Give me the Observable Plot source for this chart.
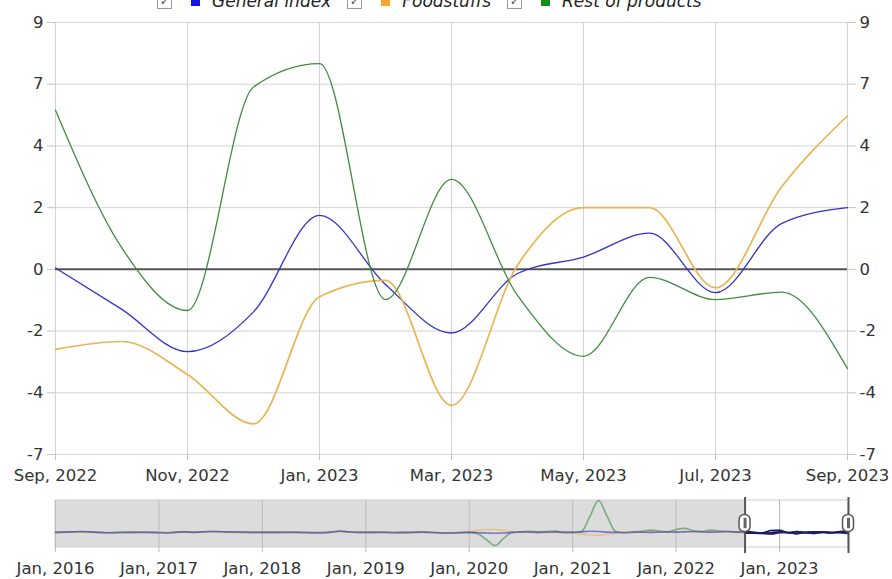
<!DOCTYPE html>
<html><head><meta charset="utf-8">
<script src="https://cdn.jsdelivr.net/npm/d3@7"></script>
<script src="https://cdn.jsdelivr.net/npm/@observablehq/plot@0.6"></script>
<style>
body{margin:0;background:#fff;overflow:hidden;font-family:"DejaVu Sans",sans-serif;}
#wrap{position:relative;width:892px;height:579px;overflow:hidden;}
#legend{position:absolute;left:157px;top:-8px;display:flex;align-items:center;height:18px;font-size:17px;font-style:italic;color:#222;white-space:nowrap;}
#legend .cb{display:inline-block;width:13px;height:13px;border:1px solid #999;font-size:11px;line-height:13px;text-align:center;color:#444;font-style:normal;box-sizing:content-box;}
#legend .sw{display:inline-block;width:9px;height:9px;margin-left:19px;margin-right:12px;}
#legend .lt{margin-right:16px;}
#main{position:absolute;left:0;top:0;}
#nav{position:absolute;left:0;top:495px;}
</style></head><body><div id="wrap"><div id="main"></div><div id="nav"></div><div id="legend"></div></div>
<script>
// ---- data ----
const monthLabels = ["Sep, 2022","Oct, 2022","Nov, 2022","Dec, 2022","Jan, 2023","Feb, 2023","Mar, 2023","Apr, 2023","May, 2023","Jun, 2023","Jul, 2023","Aug, 2023","Sep, 2023"];
const seriesNames = ["General index","Foodstuffs","Rest of products"];
const lineColors = ["#3434c4","#ebb455","#3f8c3f"];
const legendColors = ["#1414e6","#f2a92e","#139013"];
const generalIndex   = [0.05,-1.45,-3.0,-1.55,1.97,-0.55,-2.32,-0.15,0.45,1.32,-0.85,1.67,2.25];
const foodstuffs     = [-2.92,-2.63,-3.83,-5.63,-1.0,-0.4,-4.96,0.15,2.25,2.25,-0.67,3.0,5.6];
const restOfProducts = [5.8,0.8,-1.5,6.65,7.5,-1.1,3.28,-0.95,-3.17,-0.29,-1.1,-0.83,-3.62];
const yTicks = [-6.75,-4.5,-2.25,0,2.25,4.5,6.75,9];
const yTickLabels = ["-7","-4","-2","0","2","4","7","9"];
const xTickIdx = [0,2,4,6,8,10,12];

// navigator (Jan 2016 .. Aug 2022, monthly), followed by the main period
const navYearLabels = ["Jan, 2016","Jan, 2017","Jan, 2018","Jan, 2019","Jan, 2020","Jan, 2021","Jan, 2022","Jan, 2023"];
const navGeneralHist = [0,1,2,3,2,0,-1,-1,0,0,0,0, -1,-2,1,2,0,2,3,3,2,2,1,0, 0,0,0,0,0,0,-1,-2,1,4,2,0, 0,0,0,-1,0,0,1,0,-1,-2,-2,-1, 0,-1,-2,-3,-2,0,2,1,0,1,2,0, 0,2,4,3,1,0,-1,0,1,0,1,2, 1,2,3,2,1,2,3,1];
const navFoodHist    = [0,0,1,1,0,0,-1,-1,0,0,0,0, 0,0,1,1,1,2,2,1,0,0,0,0, 0,0,0,0,-1,-1,0,0,1,3,1,0, 0,0,0,0,0,0,1,0,0,-1,-1,0, 3,7,10,10,7,3,0,0,-1,0,0,0, -2,-6,-9,-10,-6,-2,0,1,0,1,2,1, 2,3,2,2,1,2,2,0];
const navRestHist    = [0,1,2,2,1,0,-1,0,0,0,1,0, 0,-1,0,2,1,2,3,2,1,0,0,0, 0,0,0,1,0,-1,-1,0,2,5,2,0, 0,0,1,0,-2,-1,0,2,0,-3,-2,0, 0,-5,-25,-45,-20,0,2,4,2,3,5,0, 0,3,55,110,55,3,0,2,4,8,5,2, 10,14,6,4,8,5,3,2];
const navDomain = [-52,110];

// ---- legend ----
const legend = d3.select("#legend");
seriesNames.forEach((name,k)=>{
  legend.append("span").attr("class","cb").text("✓");
  legend.append("span").attr("class","sw").style("background",legendColors[k]);
  legend.append("span").attr("class","lt").text(name);
});

// ---- main chart ----
const mainSeries = [generalIndex,foodstuffs,restOfProducts];
const rows = [];
mainSeries.forEach((vals,s)=>vals.forEach((v,i)=>rows.push({series:seriesNames[s], i, v})));
const font = {fontFamily:"DejaVu Sans", fontSize:"16.5px", color:"#333", background:"transparent", overflow:"visible"};

const main = Plot.plot({
  width:892, height:495, marginTop:22, marginBottom:41, marginLeft:55, marginRight:45,
  style:font,
  x:{type:"linear", domain:[0,12], label:null},
  y:{domain:[-6.75,9], label:null},
  color:{domain:seriesNames, range:lineColors},
  marks:[
    Plot.ruleY(yTicks.filter(d=>d!==0), {stroke:"#d2d2d2", strokeWidth:1}),
    Plot.ruleX(xTickIdx, {stroke:"#d2d2d2", strokeWidth:1}),
    Plot.axisY({anchor:"left", ticks:yTicks, tickFormat:(d)=>yTickLabels[yTicks.indexOf(d)], tickSize:8, tickPadding:4, stroke:"#c4c4c4", fill:"#333", label:null}),
    Plot.axisY({anchor:"right", ticks:yTicks, tickFormat:(d)=>yTickLabels[yTicks.indexOf(d)], tickSize:8, tickPadding:4, stroke:"#c4c4c4", fill:"#333", label:null}),
    Plot.axisX({anchor:"bottom", ticks:xTickIdx, tickFormat:i=>monthLabels[i], tickSize:6, tickPadding:9, stroke:"#c4c4c4", fill:"#333", label:null}),
    Plot.ruleY([0], {stroke:"#555", strokeWidth:2}),
    Plot.line(rows, {x:"i", y:"v", z:"series", stroke:"series", curve:"monotone-x", strokeWidth:(d)=>d.series==="Foodstuffs"?1.7:1.3})
  ]
});
document.getElementById("main").append(main);

// ---- navigator ----
const navSeries = [navGeneralHist.concat(generalIndex), navFoodHist.concat(foodstuffs), navRestHist.concat(restOfProducts)];
const navRows = [];
// draw order: rest, food, general (general on top, as in the reference)
[2,1,0].forEach(s=>navSeries[s].forEach((v,i)=>navRows.push({series:seriesNames[s], i, v})));
const selStart = navGeneralHist.length;          // Sep 2022
const selEnd = selStart + monthLabels.length - 1; // Sep 2023
const navTicks = navYearLabels.map((_,k)=>k*12);
const span = navDomain[1]-navDomain[0];
const at = f => navDomain[0] + f*span;

const nav = Plot.plot({
  width:892, height:84, marginTop:5, marginBottom:32, marginLeft:55, marginRight:44,
  style:font,
  x:{type:"linear", domain:[0,selEnd], label:null},
  y:{domain:navDomain, axis:null},
  color:{domain:seriesNames, range:lineColors},
  marks:[
    Plot.rect([0], {x1:0, x2:selStart, y1:navDomain[0], y2:navDomain[1], fill:"#dcdcdc"}),
    Plot.rect([0], {x1:0, x2:selEnd, y1:navDomain[0], y2:navDomain[1], fill:"none", stroke:"#cfcfcf"}),
    Plot.ruleX(navTicks, {stroke:"#bdbdbd"}),
    Plot.axisX({anchor:"bottom", ticks:navTicks, tickFormat:(d)=>navYearLabels[d/12], tickSize:5, tickPadding:10, stroke:"#bdbdbd", fill:"#333", label:null}),
    Plot.line(navRows, {x:"i", y:"v", z:"series", stroke:"series", strokeOpacity:0.6, strokeWidth:1.6, curve:"monotone-x"}),
    Plot.line(navRows.filter(d=>d.i>=selStart), {x:"i", y:"v", z:"series", stroke:"#1c1c62", strokeWidth:1.6, curve:"monotone-x"}),
    Plot.ruleX([selStart, selEnd], {stroke:"#555", strokeWidth:2, insetTop:-3, insetBottom:-6}),
    Plot.rect([selStart, selEnd], {x1:d=>d, x2:d=>d, y1:at(0.33), y2:at(0.69), insetLeft:-5.5, insetRight:-5.5, rx:5, fill:"#fff", stroke:"#555", strokeWidth:1.5}),
    Plot.ruleX([selStart, selEnd], {y1:at(0.4), y2:at(0.62), stroke:"#666", strokeWidth:3})
  ]
});
document.getElementById("nav").append(nav);
</script>
</body></html>
